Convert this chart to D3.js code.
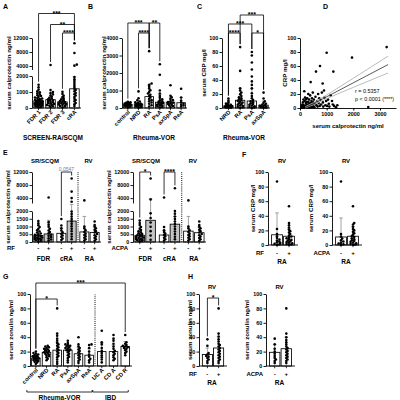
<!DOCTYPE html>
<html><head><meta charset="utf-8">
<script src="https://cdn.jsdelivr.net/npm/d3@7"></script>
<style>
body { margin: 0; background: #fff; }
svg { display: block; }
</style></head>
<body><svg id="canvas" width="400" height="400"></svg>
<script>
// ---------- data ----------
// A: calprotectin, SCREEN-RA/SCQM
const aCats = ['FDR 1', 'FDR 2', 'FDR 3', 'cRA'];
const aMean = [450, 520, 380, 1200];
const aSd = [330, 400, 280, 750];
const aPoints = [
  [40, 70, 95, 110, 130, 140, 160, 175, 190, 200, 215, 230, 250, 265, 280, 300, 310, 330, 350, 365, 380, 400, 420, 450, 470, 500, 520, 560, 590, 620, 660, 700, 750, 800, 850, 920, 980, 1050, 1150, 1300, 1450],
  [70, 110, 150, 180, 210, 250, 290, 320, 360, 400, 430, 470, 500, 540, 590, 640, 700, 780, 850, 930, 1000, 1120, 4300],
  [50, 90, 120, 150, 190, 220, 250, 280, 300, 330, 370, 400, 440, 490, 540, 600, 680, 760, 880, 1010],
  [120, 230, 310, 420, 500, 580, 690, 780, 860, 940, 1040, 1130, 1210, 1320, 1430, 1560, 1680, 1800, 1930, 4100, 4400, 7700, 10500]
];
const aSig = [['FDR 3', 'cRA', '****', 0], ['FDR 2', 'cRA', '**', 1], ['FDR 1', 'cRA', '***', 2]];

// B: calprotectin, Rheuma-VOR
const bCats = ['control', 'NRD', 'RA', 'PsA', 'axSpA', 'ReA'];
const bMean = [200, 230, 650, 330, 330, 300];
const bSd = [80, 170, 650, 450, 250, 300];
const bPoints = [
  [40, 70, 95, 110, 130, 145, 160, 175, 185, 200, 215, 225, 240, 260, 280, 300, 330, 360],
  [30, 60, 85, 100, 120, 140, 155, 170, 190, 210, 230, 250, 280, 320, 370, 440, 560, 950],
  [90, 160, 240, 310, 380, 450, 520, 600, 680, 760, 830, 920, 1010, 1110, 1220, 1330, 1400, 3250],
  [40, 70, 100, 130, 160, 190, 220, 250, 280, 310, 350, 390, 440, 500, 580, 690, 830, 1000, 1900, 2500],
  [60, 110, 150, 190, 230, 270, 300, 340, 390, 450, 520, 610, 700, 1300],
  [90, 140, 190, 240, 310, 420, 600, 1100]
];
const bSig = [['NRD', 'RA', '****', 0], ['control', 'RA', '***', 1], ['RA', 'PsA', '**', 1]];

// C: CRP, Rheuma-VOR
const cCats = ['NRD', 'RA', 'PsA', 'axSpA'];
const cMean = [3, 11, 10, 4];
const cSd = [3.5, 17, 18, 6];
const cPoints = [
  [0.3, 0.6, 0.9, 1.2, 1.5, 1.8, 2.1, 2.5, 2.9, 3.3, 3.8, 4.5, 5.2, 6.4, 8, 10.5, 13.5],
  [0.4, 1, 1.8, 2.7, 3.5, 4.6, 5.5, 6.8, 7.7, 8.9, 10, 11.3, 12.5, 13.8, 15.2, 17, 19.5, 22, 25, 28, 53, 87],
  [0.3, 0.9, 1.7, 2.6, 3.4, 4.5, 5.6, 6.8, 8.2, 9.7, 11.5, 14, 17, 21, 28, 33, 38, 45, 55, 65, 75, 80],
  [0.3, 0.7, 1.2, 1.8, 2.4, 3.1, 3.9, 4.8, 6, 7.5, 9.5, 13.5, 22]
];
const cSig = [['NRD', 'RA', '****', 0], ['PsA', 'axSpA', '*', 0], ['NRD', 'PsA', '***', 1], ['RA', 'axSpA', '***', 2]];

// D: CRP vs calprotectin
const dCalpro = [50, 60, 80, 90, 100, 110, 120, 130, 140, 150, 160, 170, 180, 190, 200, 210, 220, 230, 240, 250, 260, 270, 280, 290, 300, 310, 320, 330, 340, 350, 360, 370, 380, 390, 400, 410, 420, 430, 440, 450, 460, 470, 480, 490, 500, 520, 540, 560, 580, 600, 620, 640, 660, 680, 700, 720, 740, 750, 770, 790, 850, 820, 860, 870, 900, 920, 950, 980, 1000, 1020, 1050, 1080, 1100, 1150, 1200, 1230, 1250, 1280, 1350, 1400, 1950, 2560, 3250];
const dCrp = [1, 3, 0.5, 5, 2, 8, 1, 12, 4, 0.5, 24, 2, 10, 15, 3, 1, 7, 13, 4, 2, 9, 14, 1, 5, 3, 20, 8, 2, 12, 1, 6, 4, 18, 2, 37, 7, 3, 10, 1, 14, 5, 2, 22, 8, 3, 12, 1, 6, 16, 52, 4, 10, 2, 20, 7, 14, 3, 60, 12, 5, 35, 22, 8, 2, 25, 15, 4, 10, 79, 3, 12, 6, 2, 18, 10, 5, 52, 3, 1, 4, 72, 1.5, 87];
const dFitX = [200, 500, 1000, 1500, 2000, 2500, 3000, 3300];
const dFit = [0, 6, 16, 26, 36, 46, 56, 62];
const dUpper = [2, 7.5, 18.6, 30.5, 42.5, 54.6, 66.7, 74];
const dLower = [0, 4.5, 13.4, 21.5, 29.5, 37.4, 45.3, 50];
const dStats = ['r = 0.5357', 'p < 0.0001 (****)'];

// E: calprotectin by RF / ACPA
const eCohorts = ['FDR', 'cRA', 'RA'];
const eSigns = ['-', '+'];
const eRfMean = [[420, 520], [560, 1350], [650, 620]];
const eRfSd = [[300, 880], [330, 700], [1000, 400]];
const eRfPoints = [
  [[40, 80, 110, 140, 170, 200, 230, 260, 290, 320, 350, 380, 420, 460, 500, 550, 610, 680, 760, 850, 960, 1080, 1200, 1350],
   [90, 160, 240, 320, 400, 470, 560, 650, 740, 850, 980, 1120, 1280, 4200]],
  [[130, 220, 330, 420, 510, 620, 740, 880, 1060, 1480],
   [180, 350, 520, 690, 850, 1010, 1170, 1330, 1480, 1640, 1800, 1960, 2900, 4000, 6000, 10000]],
  [[90, 180, 270, 360, 450, 540, 650, 760, 880, 1000, 3300],
   [80, 170, 260, 350, 440, 520, 610, 700, 790, 880, 980, 1100, 1320]]
];
const eRfSig = [['cRA', '0.0547']];
const eAcpaMean = [[430, 1400], [450, 1150], [700, 600]];
const eAcpaSd = [[300, 2300], [300, 500], [950, 350]];
const eAcpaPoints = [
  [[40, 75, 105, 135, 165, 195, 225, 255, 290, 320, 355, 390, 430, 470, 510, 560, 620, 690, 770, 860, 970, 1090, 1220, 1380],
   [150, 420, 700, 980, 1260, 1550, 1850, 3600, 10000]],
  [[90, 180, 270, 360, 450, 540, 640, 760, 960, 4200],
   [170, 340, 510, 680, 840, 1000, 1160, 1320, 1480, 1650, 1830, 2000, 7000]],
  [[90, 180, 270, 360, 450, 540, 650, 760, 880, 1000, 3300],
   [80, 170, 260, 350, 440, 520, 610, 700, 790, 880, 980, 1100, 1320]]
];
const eAcpaSig = [['FDR', '*'], ['cRA', '****']];

// F: CRP in RA by RF / ACPA
const fRfMean = [14, 12];
const fRfSd = [30, 10];
const fRfPoints = [
  [0.4, 1, 1.8, 2.7, 3.6, 4.8, 6, 7.5, 9.5, 12, 15, 22, 87],
  [0.3, 0.9, 1.6, 2.4, 3.2, 4.1, 5, 6, 7, 8, 9.2, 10.4, 11.7, 13, 15, 17, 19, 21, 24, 27, 30, 53]
];
const fAcpaMean = [11, 12];
const fAcpaSd = [26, 13];
const fAcpaPoints = [
  [0.4, 1.1, 2, 3.2, 4.8, 6.5, 8.8, 11.5, 15, 87],
  [0.3, 0.9, 1.6, 2.4, 3.3, 4.3, 5.4, 6.6, 7.9, 9.3, 10.8, 12.4, 14.2, 16, 18, 20, 22, 25, 28, 30, 53]
];

// G: zonulin
const gCatsR = ['control', 'NRD', 'RA', 'PsA', 'axSpA', 'ReA'];
const gCatsI = ['UC A', 'CD A', 'CD R'];
const gMean = [11, 19, 22, 22, 17, 15, 20, 20, 27];
const gSd = [4, 5, 11, 7, 9, 9, 12, 9, 7];
const gPoints = [
  [3, 5, 6, 7, 8, 8.5, 9, 10, 10.5, 11, 11.5, 12, 13, 13.5, 14, 15, 16, 17, 18, 20],
  [8, 10, 12, 13.5, 15, 16, 17, 18, 19, 20, 21, 22, 23, 24, 25, 26, 27, 28],
  [3, 6, 9, 12, 14, 16, 18, 20, 22, 24, 26, 28, 30, 32, 35, 38, 42, 45, 80],
  [5, 8, 11, 13, 15, 17, 19, 21, 22, 23, 24, 25, 26, 27, 28, 29, 30, 32, 35],
  [4, 7, 9, 11, 13, 15, 17, 19, 21, 23, 25, 27, 30, 40],
  [5, 8, 10, 13, 16, 20, 25, 29, 30],
  [5, 9, 12, 15, 18, 21, 25, 30, 33, 49],
  [8, 10, 12, 15, 17, 19, 21, 24, 27, 31, 35, 38, 43],
  [15, 18, 20, 22, 24, 25, 26, 27, 28, 29, 31, 33, 43]
];
const gSig = [['control', 'RA', '*', 0], ['control', 'CD R', '***', 1]];

// H: zonulin in RA by RF / ACPA
const hRfMean = [16, 25];
const hRfSd = [9, 15];
const hRfPoints = [
  [4, 7, 9, 11, 13, 14, 16, 18, 28, 37],
  [4, 7, 9, 11, 13, 15, 17, 19, 21, 23, 25, 27, 29, 31, 34, 37, 41, 45, 80]
];
const hAcpaMean = [19, 24];
const hAcpaSd = [11, 16];
const hAcpaPoints = [
  [4, 7, 9, 11, 14, 17, 20, 24, 30, 38],
  [4, 7, 9, 11, 13, 15, 17, 19, 21, 23, 25, 27, 30, 33, 36, 40, 45, 80]
];

// ---------- helpers ----------
const svg = d3.select('#canvas');
const FONT = '"Liberation Sans", Arial, sans-serif';
svg.attr('font-family', FONT);

function txt(g, x, y, s, o = {}) {
  return g.append('text')
    .attr('x', x).attr('y', y).text(s)
    .attr('font-size', o.size || 6)
    .attr('font-weight', o.weight || 'bold')
    .attr('text-anchor', o.anchor || 'middle')
    .attr('fill', o.fill || '#000')
    .attr('transform', o.rotate ? `rotate(${o.rotate},${x},${y})` : null);
}

function yAxis(g, x, scale, ticks) {
  const ax = g.append('g')
    .attr('transform', `translate(${x},0)`)
    .call(d3.axisLeft(scale).tickValues(ticks).tickSize(2.5).tickSizeOuter(0)
      .tickPadding(1.2).tickFormat(d3.format('d')));
  ax.select('.domain').attr('stroke-width', 0.9);
  ax.selectAll('.tick line').attr('stroke-width', 0.9);
  ax.selectAll('text').attr('font-size', 5.4).attr('font-weight', 'bold').attr('font-family', FONT);
}

function baseline(g, x0, x1, y0, centers) {
  g.append('line').attr('x1', x0).attr('x2', x1).attr('y1', y0).attr('y2', y0)
    .attr('stroke', '#000').attr('stroke-width', 0.9);
  g.selectAll(null).data(centers).join('line')
    .attr('x1', d => d).attr('x2', d => d).attr('y1', y0).attr('y2', y0 + 2.2)
    .attr('stroke', '#000').attr('stroke-width', 0.8);
}

// simple deterministic beeswarm inside a bar
function swarm(ys, cx, half) {
  const placed = [];
  ys.forEach((py, i) => {
    let best = null;
    for (let k = 0; k < 30; k++) {
      const o = (k % 2 ? 1 : -1) * Math.ceil(k / 2) * 1.2;
      if (Math.abs(o) > half) continue;
      if (placed.every(p => Math.hypot(p[0] - (cx + o), p[1] - py) >= 1.75)) { best = o; break; }
    }
    if (best === null) best = ((i * 0.618) % 1 * 2 - 1) * half;
    placed.push([cx + best, py]);
  });
  return placed;
}

function dotBar(g, cx, w, y, y0, mean, sd, pts, fill) {
  const top = y(mean);
  g.append('rect')
    .attr('x', cx - w / 2).attr('y', top).attr('width', w).attr('height', y0 - top)
    .attr('fill', fill).attr('stroke', '#000').attr('stroke-width', 0.85);
  const eb = y(mean + sd);
  g.append('path')
    .attr('d', `M${cx},${top}V${eb}M${cx - 1.8},${eb}H${cx + 1.8}`)
    .attr('stroke', '#8a8a8a').attr('stroke-width', 0.8).attr('fill', 'none');
  g.selectAll(null).data(swarm(pts.map(y), cx, w / 2 - 0.8)).join('circle')
    .attr('cx', d => d[0]).attr('cy', d => d[1]).attr('r', 1.3).attr('fill', '#000');
}

function bracket(g, x1, x2, yl, b1, b2, s, o = {}) {
  g.append('path')
    .attr('d', `M${x1},${b1}V${yl}H${x2}V${b2}`)
    .attr('fill', 'none').attr('stroke', '#000').attr('stroke-width', 0.8);
  if (o.plain) txt(g, (x1 + x2) / 2, yl - 1.5, s, { size: 5, weight: 'normal', fill: o.fill });
  else txt(g, (x1 + x2) / 2, yl + 2, s, { size: 7 });
}

function legEnd(yl, yv) { return Math.max(yl + 2, yv - 3); }

function sig(g, list, xOf, topOf, y, levels) {
  list.forEach(([a, b, s, lv]) => {
    const yl = levels[lv];
    bracket(g, xOf(a), xOf(b), yl, legEnd(yl, y(topOf(a))), legEnd(yl, y(topOf(b))), s);
  });
}

function rotLabels(g, xs, cats, y0) {
  cats.forEach((c, i) => txt(g, xs[i] + 2.5, y0 + 4.5, c, { anchor: 'end', rotate: -45, size: 5.8 }));
}

function broken(lo, hi) {
  return v => (v <= lo.domain()[1] ? lo(v) : hi(v));
}

// ---------- panel A ----------
{
  const g = svg.append('g');
  const y0 = 108;
  const yLo = d3.scaleLinear().domain([0, 2000]).range([108, 76]);
  const yHi = d3.scaleLinear().domain([3000, 12000]).range([69.5, 38]);
  const y = broken(yLo, yHi);
  const x = d3.scaleBand().domain(aCats).range([32, 81]).paddingInner(0.2).paddingOuter(0.15);
  const cx = c => x(c) + x.bandwidth() / 2;
  aCats.forEach((c, i) => dotBar(g, cx(c), x.bandwidth(), y, y0, aMean[i], aSd[i], aPoints[i], '#fff'));
  baseline(g, 32, 81, y0, aCats.map(cx));
  yAxis(g, 32, yLo, [0, 1000, 2000]);
  yAxis(g, 32, yHi, [4000, 8000, 12000]);
  rotLabels(g, aCats.map(cx), aCats, y0);
  sig(g, aSig, cx, c => d3.max(aPoints[aCats.indexOf(c)]), y, [33, 24.5, 13.5]);
  txt(g, 3, 9, 'A', { anchor: 'start', size: 7 });
  txt(g, 11, 73, 'serum calprotectin ng/ml', { rotate: -90, size: 6.2 });
  txt(g, 53, 140, 'SCREEN-RA/SCQM', { size: 6.5 });
}

// ---------- panel B ----------
{
  const g = svg.append('g');
  const y0 = 108;
  const y = d3.scaleLinear().domain([0, 4000]).range([108, 38]);
  const x = d3.scaleBand().domain(bCats).range([122, 187]).paddingInner(0.2).paddingOuter(0.15);
  const cx = c => x(c) + x.bandwidth() / 2;
  bCats.forEach((c, i) => dotBar(g, cx(c), x.bandwidth(), y, y0, bMean[i], bSd[i], bPoints[i], '#fff'));
  baseline(g, 122, 187, y0, bCats.map(cx));
  yAxis(g, 122, y, [0, 1000, 2000, 3000, 4000]);
  rotLabels(g, bCats.map(cx), bCats, y0);
  sig(g, bSig, cx, c => d3.max(bPoints[bCats.indexOf(c)]), y, [33, 23]);
  txt(g, 88, 9, 'B', { anchor: 'start', size: 7 });
  txt(g, 106, 73, 'serum calprotectin ng/ml', { rotate: -90, size: 6.2 });
  txt(g, 154, 140, 'Rheuma-VOR', { size: 6.5 });
}

// ---------- panel C ----------
{
  const g = svg.append('g');
  const y0 = 108;
  const y = d3.scaleLinear().domain([0, 100]).range([108, 38]);
  const x = d3.scaleBand().domain(cCats).range([222, 270]).paddingInner(0.2).paddingOuter(0.15);
  const cx = c => x(c) + x.bandwidth() / 2;
  cCats.forEach((c, i) => dotBar(g, cx(c), x.bandwidth(), y, y0, cMean[i], cSd[i], cPoints[i], '#fff'));
  baseline(g, 222, 270, y0, cCats.map(cx));
  yAxis(g, 222, y, [0, 20, 40, 60, 80, 100]);
  rotLabels(g, cCats.map(cx), cCats, y0);
  sig(g, cSig, cx, c => d3.max(cPoints[cCats.indexOf(c)]), y, [33, 24, 15]);
  txt(g, 197, 9, 'C', { anchor: 'start', size: 7 });
  txt(g, 206, 73, 'serum CRP mg/l', { rotate: -90, size: 6.2 });
  txt(g, 244, 140, 'Rheuma-VOR', { size: 6.5 });
}

// ---------- panel D ----------
{
  const g = svg.append('g');
  const x = d3.scaleLinear().domain([0, 3600]).range([300, 396]);
  const y = d3.scaleLinear().domain([0, 100]).range([108, 38]);
  const ax = g.append('g').attr('transform', 'translate(0,108)')
    .call(d3.axisBottom(x).tickValues([0, 1000, 2000, 3000]).tickSize(2.5).tickSizeOuter(0)
      .tickPadding(1.2).tickFormat(d3.format('d')));
  ax.select('.domain').attr('stroke-width', 0.9);
  ax.selectAll('text').attr('font-size', 5.4).attr('font-weight', 'bold').attr('font-family', FONT);
  yAxis(g, 300, y, [0, 20, 40, 60, 80, 100]);
  g.selectAll(null).data(dCalpro).join('circle')
    .attr('cx', d => x(d)).attr('cy', (d, i) => y(dCrp[i])).attr('r', 1.3).attr('fill', '#000');
  const line = d3.line().x(d => x(d[0])).y(d => y(d[1]));
  [[dUpper, '#b3b3b3'], [dLower, '#b3b3b3'], [dFit, '#454545']].forEach(([ys, col]) => {
    g.append('path').attr('d', line(dFitX.map((v, i) => [v, ys[i]])))
      .attr('fill', 'none').attr('stroke', col).attr('stroke-width', 0.9);
  });
  txt(g, 355, 93, dStats[0], { anchor: 'start', size: 5.4, weight: 'normal' });
  txt(g, 355, 101, dStats[1], { anchor: 'start', size: 5.4, weight: 'normal' });
  txt(g, 323, 9, 'D', { anchor: 'start', size: 7 });
  txt(g, 287, 73, 'CRP mg/l', { rotate: -90, size: 6.2 });
  txt(g, 348, 128, 'serum calprotectin ng/ml', { size: 6 });
}

// ---------- panel E (two sub-plots) ----------
function panelE(x0, x1, means, sds, points, sigs, factor, factorEnd, plainSig) {
  const g = svg.append('g');
  const y0 = 242;
  const yLo = d3.scaleLinear().domain([0, 2000]).range([242, 211]);
  const yHi = d3.scaleLinear().domain([2500, 12000]).range([203, 172]);
  const y = broken(yLo, yHi);
  const outer = d3.scaleBand().domain(eCohorts).range([x0, x1]);
  const inner = d3.scaleBand().domain(eSigns).range([0, outer.bandwidth()]).paddingInner(0.12).paddingOuter(0.18);
  const cx = (c, s) => outer(c) + inner(s) + inner.bandwidth() / 2;
  const centers = [];
  eCohorts.forEach((c, i) => eSigns.forEach((s, j) => {
    const fill = (s === '+' && c !== 'RA') ? '#c4c4c4' : '#fff';
    dotBar(g, cx(c, s), inner.bandwidth(), y, y0, means[i][j], sds[i][j], points[i][j], fill);
    centers.push(cx(c, s));
    txt(g, cx(c, s), 250, s, { size: 6.2 });
  }));
  baseline(g, x0, x1, y0, centers);
  yAxis(g, x0, yLo, [0, 500, 1000, 1500, 2000]);
  yAxis(g, x0, yHi, [4000, 8000, 12000]);
  const sep = outer('RA');
  g.append('line').attr('x1', sep).attr('x2', sep).attr('y1', y0).attr('y2', 172)
    .attr('stroke', '#444').attr('stroke-width', 1.3).attr('stroke-dasharray', '1,1.1');
  eCohorts.forEach(c => txt(g, outer(c) + outer.bandwidth() / 2, 261, c, { size: 6.5 }));
  txt(g, x0 + 13, 163, 'SR/SCQM', { size: 6 });
  txt(g, outer('RA') + outer.bandwidth() / 2 - 1, 163, 'RV', { size: 6 });
  txt(g, x0 - factorEnd, 250, factor, { anchor: 'end', size: 6 });
  sigs.forEach(([c, s]) => {
    const i = eCohorts.indexOf(c);
    const yl = 172;
    bracket(g, cx(c, '-'), cx(c, '+'), yl,
      legEnd(yl, y(d3.max(points[i][0]))), legEnd(yl, y(d3.max(points[i][1]))), s,
      plainSig ? { plain: true, fill: '#5f7fa8' } : {});
  });
  txt(g, x0 - 22, 207, 'serum calprotectin ng/ml', { rotate: -90, size: 6.2 });
}
panelE(32, 101, eRfMean, eRfSd, eRfPoints, eRfSig, 'RF', 17, true);
panelE(133, 206, eAcpaMean, eAcpaSd, eAcpaPoints, eAcpaSig, 'ACPA', 5, false);
txt(svg, 3, 155, 'E', { anchor: 'start', size: 7 });

// ---------- two-bar RA sub-plots (F, H) ----------
function twoBar(x0, x1, y, y0, means, sds, points, factor, factorEnd, ticks, title, titleX, rows, sigLabel) {
  const g = svg.append('g');
  const x = d3.scaleBand().domain(eSigns).range([x0, x1]).paddingInner(0.1).paddingOuter(0.3);
  const cx = s => x(s) + x.bandwidth() / 2;
  eSigns.forEach((s, j) => {
    dotBar(g, cx(s), x.bandwidth(), y, y0, means[j], sds[j], points[j], '#fff');
    txt(g, cx(s), rows[0], s, { size: 6.2 });
  });
  baseline(g, x0, x1, y0, eSigns.map(cx));
  yAxis(g, x0, y, ticks);
  txt(g, (x0 + x1) / 2 - 1, rows[2], 'RV', { size: 6 });
  txt(g, (x0 + x1) / 2 - 1, rows[1], 'RA', { size: 6.5 });
  txt(g, x0 - factorEnd, rows[0], factor, { anchor: 'end', size: 6 });
  txt(g, titleX, (y(0) + y(100)) / 2, title, { rotate: -90, size: 6.2 });
  if (sigLabel) {
    const yl = 298;
    bracket(g, cx('-'), cx('+'), yl, legEnd(yl, y(d3.max(points[0]))), legEnd(yl, y(d3.max(points[1]))), sigLabel);
  }
}
const yF = d3.scaleLinear().domain([0, 100]).range([245, 172]);
twoBar(268, 298, yF, 245, fRfMean, fRfSd, fRfPoints, 'RF', 4, [0, 20, 40, 60, 80, 100], 'serum CRP mg/l', 255, [255, 264, 163]);
twoBar(332, 362, yF, 245, fAcpaMean, fAcpaSd, fAcpaPoints, 'ACPA', 2, [0, 20, 40, 60, 80, 100], 'serum CRP mg/l', 313, [255, 264, 163]);
txt(svg, 242, 157, 'F', { anchor: 'start', size: 7 });

const yGH = d3.scaleLinear().domain([0, 100]).range([366, 294]);
twoBar(199, 227, yGH, 366, hRfMean, hRfSd, hRfPoints, 'RF', 2, [0, 20, 40, 60, 80, 100], 'serum zonulin ng/ml', 191.5, [376, 385, 289], '*');
twoBar(266, 295, yGH, 366, hAcpaMean, hAcpaSd, hAcpaPoints, 'ACPA', 3, [0, 20, 40, 60, 80, 100], 'serum zonulin ng/ml', 249, [376, 385, 289]);
txt(svg, 188, 279, 'H', { anchor: 'start', size: 7 });

// ---------- panel G ----------
{
  const g = svg.append('g');
  const y0 = 366;
  const y = yGH;
  const xR = d3.scaleBand().domain(gCatsR).range([30, 95]).paddingInner(0.2).paddingOuter(0.15);
  const xI = d3.scaleBand().domain(gCatsI).range([95, 132]).paddingInner(0.25).paddingOuter(0.2);
  const cats = gCatsR.concat(gCatsI);
  const cx = c => (gCatsR.includes(c) ? xR(c) + xR.bandwidth() / 2 : xI(c) + xI.bandwidth() / 2);
  cats.forEach((c, i) => dotBar(g, cx(c), xR.bandwidth(), y, y0, gMean[i], gSd[i], gPoints[i], '#fff'));
  baseline(g, 30, 132, y0, cats.map(cx));
  yAxis(g, 30, y, [0, 20, 40, 60, 80, 100]);
  g.append('line').attr('x1', 95).attr('x2', 95).attr('y1', y0).attr('y2', 294)
    .attr('stroke', '#444').attr('stroke-width', 1.3).attr('stroke-dasharray', '1,1.1');
  rotLabels(g, cats.map(cx), cats, y0);
  sig(g, gSig, cx, c => d3.max(gPoints[cats.indexOf(c)]), y, [299, 283]);
  [[gCatsR, 'Rheuma-VOR'], [gCatsI, 'IBD']].forEach(([cs, name]) => {
    const a = cx(cs[0]) - 9, b = cx(cs[cs.length - 1]) + 3;
    g.append('path').attr('d', `M${a},${390}V${392}H${b}V${390}`)
      .attr('fill', 'none').attr('stroke', '#000').attr('stroke-width', 0.8);
    txt(g, (a + b) / 2, 399.5, name, { size: 6.5 });
  });
  txt(g, 3, 279, 'G', { anchor: 'start', size: 7 });
  txt(g, 13, 330, 'serum zonulin ng/ml', { rotate: -90, size: 6.2 });
}
</script></body></html>
